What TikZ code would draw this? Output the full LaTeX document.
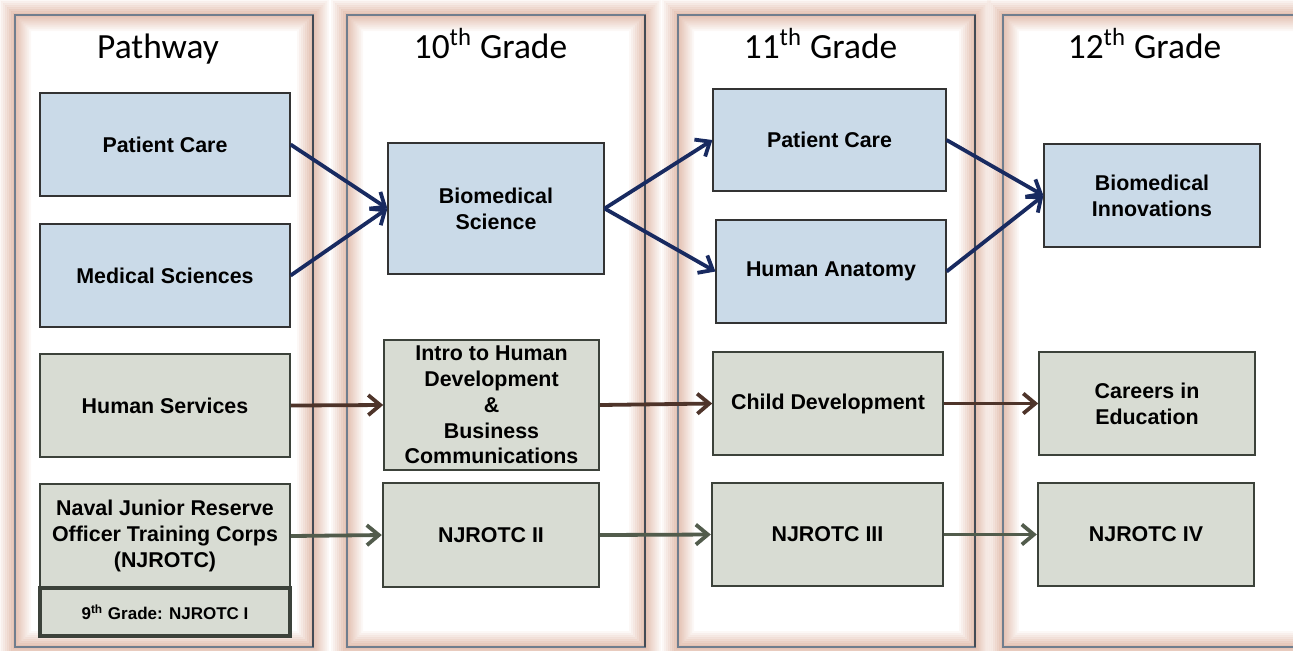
\documentclass[tikz,border=0pt]{standalone}
\usepackage{fontspec}
\setmainfont{Liberation Sans}
\newfontfamily\headfont{Carlito}
\usepackage{xcolor}
\usetikzlibrary{arrows.meta}

\definecolor{boxblue}{RGB}{202,218,232}
\definecolor{boxgray}{RGB}{216,220,211}
\definecolor{navyline}{RGB}{24,42,96}
\definecolor{brownline}{RGB}{78,52,42}
\definecolor{greenline}{RGB}{82,92,76}
\definecolor{edgegray}{RGB}{60,66,58}
\definecolor{panelglow}{RGB}{222,180,162}
\definecolor{panelrule}{RGB}{112,126,142}

\tikzset{
  course/.style={draw=black!80, line width=0.6pt, align=center, inner sep=0pt,
    font=\fontsize{10.7}{12.9}\selectfont\bfseries},
  bluebox/.style={course, fill=boxblue},
  graybox/.style={course, fill=boxgray, draw=edgegray, line width=0.8pt},
  navybox/.style={course, fill=boxgray, draw=edgegray, line width=1.2pt},
  header/.style={font=\headfont\fontsize{17.7}{20}\selectfont, anchor=base},
  flow/.style={-{Straight Barb[length=6pt,width=10pt]}, line width=1.9pt},
}

\begin{document}
\begin{tikzpicture}[x=0.5pt,y=-0.5pt]
                \useasboundingbox (0,0) rectangle (1293,650);
                % columns
                \foreach \xa/\xb in {15/313,347/645,678/975,1003/1320}{
                  \foreach \i [evaluate=\i as \op using 0.9-0.1*\i, evaluate=\i as \j using \i-1] in {1,...,8}{
                    \fill[panelglow, opacity=\op, even odd rule]
                      (\xa-2*\i,15-2*\i) rectangle (\xb+2*\i,647+2*\i)
                      (\xa-2*\j,15-2*\j) rectangle (\xb+2*\j,647+2*\j);
                    \fill[panelglow, opacity=\op, even odd rule]
                      (\xa+2*\j,15+2*\j) rectangle (\xb-2*\j,647-2*\j)
                      (\xa+2*\i,15+2*\i) rectangle (\xb-2*\i,647-2*\i);
                  }
                  \draw[panelrule, line width=1.4pt] (\xa,15) rectangle (\xb,647);
                  \draw[panelrule!60!black, line width=0.8pt] (\xb,15) -- (\xb,647);
                }
                \node[header] (h0) at (158,58) {Pathway};
                \node[header] (h1) at (490.5,58) {10\textsuperscript{th} Grade};
                \node[header] (h2) at (820.5,58) {11\textsuperscript{th} Grade};
                \node[header] (h3) at (1144.5,58) {12\textsuperscript{th} Grade};
                % pathway
                \node[bluebox, minimum width=125pt, minimum height=51.5pt] (pc) at (165,144.5) {Patient Care};
                \node[bluebox, minimum width=125pt, minimum height=51.5pt] (ms) at (165,275.5) {Medical Sciences};
                \node[graybox, minimum width=125pt, minimum height=51.5pt] (hs) at (165,405.5) {Human Services};
                \node[navybox, minimum width=125pt, minimum height=52pt] (nj) at (165,536) {Naval Junior Reserve\\Officer Training Corps\\(NJROTC)};
                \node[navybox, line width=1.7pt, minimum width=125pt, minimum height=24pt,
                  font=\fontsize{8.5}{10}\selectfont\bfseries] (nj9) at (165,612) {9\textsuperscript{th} Grade: NJROTC I};
                % 10th
                \node[bluebox, minimum width=108pt, minimum height=65.5pt] (bs) at (496,208.5) {Biomedical\\Science};
                \node[graybox, minimum width=107.5pt, minimum height=65pt] (ihd) at (491.5,405) {Intro to Human\\Development\\\&\\Business\\Communications};
                \node[navybox, minimum width=108pt, minimum height=52pt] (nj2) at (491,535) {NJROTC II};
                % 11th
                \node[bluebox, minimum width=116.5pt, minimum height=51pt] (pc11) at (829.5,140) {Patient Care};
                \node[bluebox, minimum width=115pt, minimum height=51.5pt] (ha) at (831,271.5) {Human Anatomy};
                \node[graybox, minimum width=115pt, minimum height=51.5pt] (cd) at (828,403.5) {Child Development};
                \node[navybox, minimum width=115.5pt, minimum height=51.5pt] (nj3) at (827.5,534.5) {NJROTC III};
                % 12th
                \node[bluebox, minimum width=108pt, minimum height=51.5pt] (bi) at (1152,195.5) {Biomedical\\Innovations};
                \node[graybox, minimum width=108pt, minimum height=51.5pt] (ce) at (1147,403.5) {Careers in\\Education};
                \node[navybox, minimum width=108pt, minimum height=51.5pt] (nj4) at (1146,534.5) {NJROTC IV};
                % arrows
                \draw[flow, navyline] (pc.east) -- (bs.west);
                \draw[flow, navyline] (ms.east) -- (bs.west);
                \draw[flow, navyline] (bs.east) -- (pc11.west);
                \draw[flow, navyline] (bs.east) -- (ha.west);
                \draw[flow, navyline] (pc11.east) -- (bi.west);
                \draw[flow, navyline] (ha.east) -- (bi.west);
                \draw[flow, brownline] (hs.east) -- (ihd.west);
                \draw[flow, brownline] (ihd.east) -- (cd.west);
                \draw[flow, brownline] (cd.east) -- (ce.west);
                \draw[flow, greenline] (nj.east) -- (nj2.west);
                \draw[flow, greenline] (nj2.east) -- (nj3.west);
                \draw[flow, greenline] (nj3.east) -- (nj4.west);
            \end{tikzpicture}
\end{document}
